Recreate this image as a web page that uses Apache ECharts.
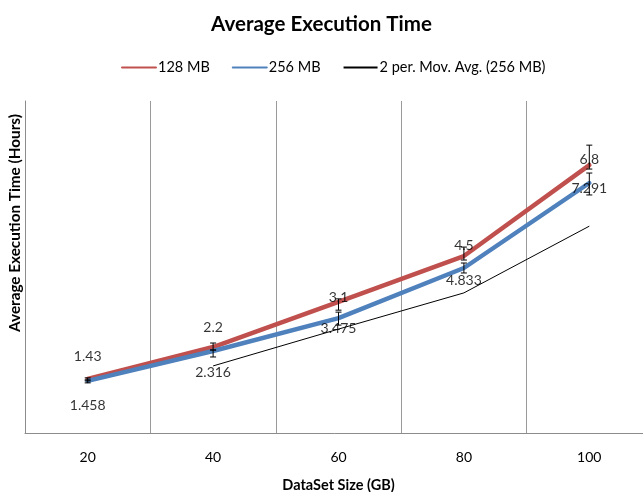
<!DOCTYPE html>
<html><head><meta charset="utf-8">
<script src="https://cdn.jsdelivr.net/npm/echarts/dist/echarts.min.js"></script>
<style>html,body{margin:0;padding:0;background:#fff}#c{width:643px;height:492px}</style>
</head><body><div id="c"></div>
<script>
const categories = ['20', '40', '60', '80', '100'];
const mb128 = [1.63, 2.59, 3.95, 5.33, 8.07];
const mb256 = [1.57, 2.47, 3.46, 4.97, 7.53];
const movAvg256 = [null, 2.02, 3.13, 4.22, 6.23];
const err128Low = [1.57, 2.50, 3.70, 5.21, 7.95];
const err128High = [1.66, 2.71, 4.04, 5.60, 8.67];
const err256Low = [1.51, 2.29, 3.25, 4.82, 7.17];
const err256High = [1.60, 2.50, 3.64, 5.12, 7.83];
const labels128 = ['1.43', '2.2', '3.1', '4.5', '6.8'];
const labels256 = ['1.458', '2.316', '3.475', '4.833', '7.291'];
const labelPos128 = [2.29, 3.19, 4.07, 5.66, 8.25];
const labelPos256 = [0.84, 1.81, 3.16, 4.58, 7.35];

const FONT = 'Lato, "Open Sans", sans-serif';

function errRender(params, api) {
  const i = api.value(0);
  const lo = api.coord([i, api.value(1)]);
  const hi = api.coord([i, api.value(2)]);
  const w = 3;
  const st = { stroke: '#000', lineWidth: 1 };
  return {
    type: 'group', children: [
      { type: 'line', shape: { x1: lo[0], y1: lo[1], x2: hi[0], y2: hi[1] }, style: st },
      { type: 'line', shape: { x1: lo[0] - w, y1: lo[1], x2: lo[0] + w, y2: lo[1] }, style: st },
      { type: 'line', shape: { x1: hi[0] - w, y1: hi[1], x2: hi[0] + w, y2: hi[1] }, style: st }
    ]
  };
}

function labelSeries(pos, texts) {
  return {
    type: 'scatter', silent: true, z: 10,
    symbolSize: 1, itemStyle: { color: 'rgba(0,0,0,0)' },
    data: pos.map((v, i) => [i, v]),
    label: {
      show: true, position: 'inside', color: '#000', fontSize: 14, fontFamily: FONT,
      formatter: p => texts[p.dataIndex]
    }
  };
}

const chart = echarts.init(document.getElementById('c'), null, { renderer: 'canvas' });
chart.setOption({
  animation: false,
  backgroundColor: '#fff',
  title: {
    text: 'Average Execution Time', left: 'center', top: 9,
    textStyle: { fontFamily: FONT, fontWeight: 'bold', fontSize: 20.5, color: '#000' }
  },
  legend: {
    data: ['128 MB', '256 MB', '2 per. Mov. Avg. (256 MB)'],
    left: 116, top: 55, itemWidth: 34, itemHeight: 14, itemGap: 22,
    itemStyle: { opacity: 0 },
    textStyle: { fontFamily: FONT, fontSize: 14.5, color: '#000', padding: [0, 0, 0, -3] }
  },
  grid: { left: 25, top: 101, width: 627, height: 332, containLabel: false, outerBoundsMode: 'none' },
  xAxis: {
    type: 'category', data: categories, boundaryGap: true,
    axisLine: { lineStyle: { color: '#8c8c8c', width: 1 } },
    axisTick: { show: false },
    axisLabel: { color: '#000', fontFamily: FONT, fontSize: 14, margin: 17 },
    splitLine: { show: true, lineStyle: { color: '#9a9a9a', width: 1 } },
    name: 'DataSet Size (GB)', nameLocation: 'middle', nameGap: 45,
    nameTextStyle: { fontFamily: FONT, fontWeight: 'bold', fontSize: 14.5, color: '#000' }
  },
  yAxis: {
    type: 'value', min: 0, max: 10,
    axisLine: { show: true, lineStyle: { color: '#8c8c8c', width: 1 } },
    axisTick: { show: false }, axisLabel: { show: false },
    splitLine: { show: false }
  },
  graphic: [{
    type: 'text', x: 15, y: 223, rotation: Math.PI / 2,
    style: {
      text: 'Average Execution Time (Hours)', fontFamily: FONT, fontWeight: 'bold', fontSize: 15.3,
      fill: '#000', textAlign: 'center', textVerticalAlign: 'middle'
    }
  }],
  series: [
    {
      name: '128 MB', type: 'line', data: mb128, showSymbol: false, symbol: 'none',
      lineStyle: { color: '#C0504D', width: 4.5, cap: 'round' }, itemStyle: { color: '#C0504D' }, z: 3
    },
    {
      name: '256 MB', type: 'line', data: mb256, showSymbol: false, symbol: 'none',
      lineStyle: { color: '#4F81BD', width: 4.5, cap: 'round' }, itemStyle: { color: '#4F81BD' }, z: 3
    },
    {
      name: '2 per. Mov. Avg. (256 MB)', type: 'line', data: movAvg256, showSymbol: false, symbol: 'none',
      lineStyle: { color: '#000', width: 1 }, itemStyle: { color: '#000' }, z: 2
    },
    { type: 'custom', renderItem: errRender, silent: true, z: 5,
      data: categories.map((c, i) => [i, err128Low[i], err128High[i]]), encode: { x: 0, y: [1, 2] } },
    { type: 'custom', renderItem: errRender, silent: true, z: 5,
      data: categories.map((c, i) => [i, err256Low[i], err256High[i]]), encode: { x: 0, y: [1, 2] } },
    labelSeries(labelPos128, labels128),
    labelSeries(labelPos256, labels256)
  ]
});
</script>
</body></html>
